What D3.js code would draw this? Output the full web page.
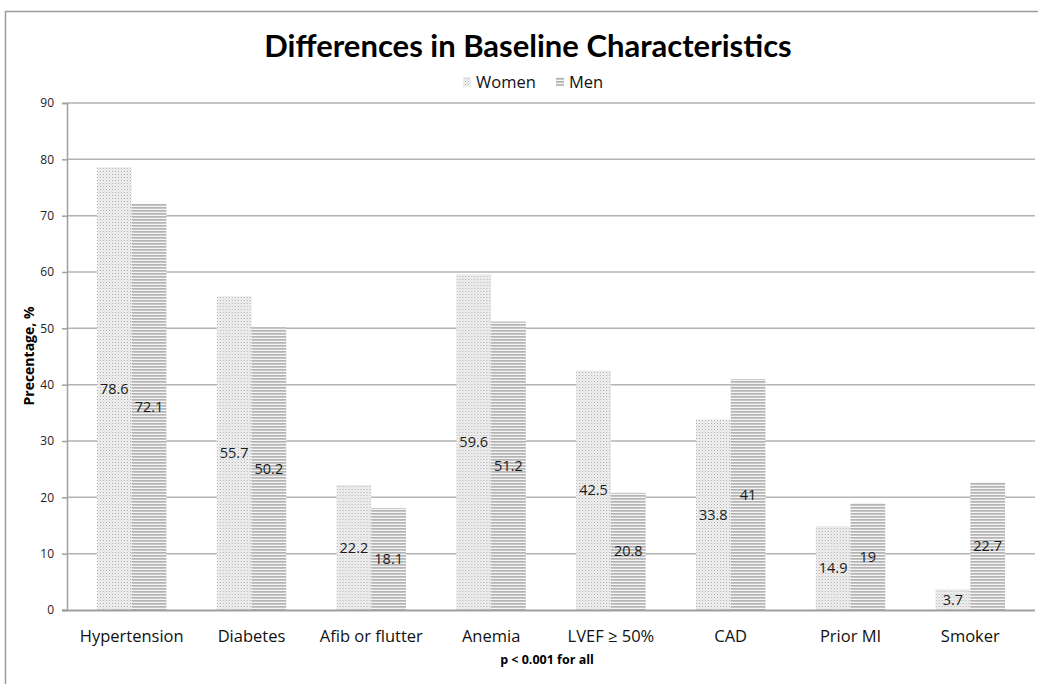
<!DOCTYPE html>
<html><head><meta charset="utf-8">
<script src="https://cdn.jsdelivr.net/npm/d3@7"></script>
<style>body{margin:0;background:#fff;}svg{display:block;font-family:"Open Sans",sans-serif;}</style>
</head><body>
<script>
const categories = ["Hypertension","Diabetes","Afib or flutter","Anemia","LVEF \u2265 50%","CAD","Prior MI","Smoker"];
const women = [78.6,55.7,22.2,59.6,42.5,33.8,14.9,3.7];
const men = [72.1,50.2,18.1,51.2,20.8,41,19,22.7];
const seriesNames = ["Women","Men"];
const yTicks = [0,10,20,30,40,50,60,70,80,90];

const W=1038,H=684;
const svg=d3.select("body").append("svg").attr("width",W).attr("height",H);
const defs=svg.append("defs");
const pw=defs.append("pattern").attr("id","pWomen").attr("patternUnits","userSpaceOnUse").attr("width",3).attr("height",3);
pw.append("rect").attr("width",3).attr("height",3).attr("fill","#f2f2f2");
pw.append("rect").attr("x",0).attr("y",0).attr("width",1).attr("height",1).attr("fill","#a8a8a8");
pw.append("rect").attr("x",1.5).attr("y",1.5).attr("width",1).attr("height",1).attr("fill","#c8c8c8");
const pm=defs.append("pattern").attr("id","pMen").attr("patternUnits","userSpaceOnUse").attr("width",4).attr("height",3);
pm.append("rect").attr("width",4).attr("height",3).attr("fill","#f4f4f4");
pm.append("rect").attr("y",0).attr("width",4).attr("height",1.7).attr("fill","#b4b4b4");

// outer border
svg.append("path").attr("d","M5.5,684 V11.5 H1038").attr("fill","none").attr("stroke","#9a9a9a").attr("stroke-width",1.5);

const m={l:67,r:1035,t:103,b:610};
const x=d3.scaleBand().domain(categories).range([m.l,m.r]).paddingInner(0.42).paddingOuter(0.25);
const xs=d3.scaleBand().domain(seriesNames).range([0,x.bandwidth()]);
const y=d3.scaleLinear().domain([0,90]).range([m.b,m.t]);

// gridlines
svg.append("g").selectAll("line").data(yTicks.filter(d=>d>0)).join("line")
 .attr("x1",m.l).attr("x2",m.r).attr("y1",d=>y(d)).attr("y2",d=>y(d))
 .attr("stroke","#b3b3b3").attr("stroke-width",1.5);

// y axis
const ya=svg.append("g").attr("transform",`translate(${m.l},0)`)
 .call(d3.axisLeft(y).tickValues(yTicks).tickSize(5).tickPadding(8));
ya.select(".domain").attr("stroke","#a0a0a0").attr("stroke-width",1.5);
ya.selectAll(".tick line").attr("stroke","#a0a0a0").attr("stroke-width",1.5);
ya.selectAll(".tick text").attr("font-size",12).attr("fill","#222").attr("font-family","Open Sans");

// bars
const data=categories.map((c,i)=>({c,vals:[{s:"Women",v:women[i]},{s:"Men",v:men[i]}]}));
const g=svg.append("g").selectAll("g").data(data).join("g").attr("transform",d=>`translate(${x(d.c)},0)`);
g.selectAll("rect").data(d=>d.vals).join("rect")
 .attr("x",d=>xs(d.s)).attr("width",xs.bandwidth())
 .attr("y",d=>y(d.v)).attr("height",d=>y(0)-y(d.v))
 .attr("fill",d=>d.s==="Women"?"url(#pWomen)":"url(#pMen)");
g.selectAll("text").data(d=>d.vals).join("text")
 .attr("x",d=>xs(d.s)+xs.bandwidth()/2).attr("y",d=>(y(0)+y(d.v))/2)
 .attr("dy","0.35em").attr("text-anchor","middle").attr("font-size",14.5).attr("fill","#1a1a1a")
 .text(d=>d.v);

// x axis
const xa=svg.append("g").attr("transform",`translate(0,${m.b})`).call(d3.axisBottom(x).tickSize(0).tickPadding(20));
xa.select(".domain").attr("stroke","#a0a0a0").attr("stroke-width",2).attr("d",`M${m.l-5},0.5H${m.r}`);
xa.selectAll(".tick text").attr("font-size",16.5).attr("fill","#111").attr("font-family","Open Sans");

// titles
svg.append("text").attr("x",528).attr("y",57).attr("text-anchor","middle")
 .attr("font-family","Lato").attr("font-weight","bold").attr("font-size",31).attr("fill","#000")
 .text("Differences in Baseline Characteristics");
svg.append("text").attr("transform","translate(34,356) rotate(-90)").attr("text-anchor","middle")
 .attr("font-family","Open Sans").attr("font-weight","bold").attr("font-size",14).attr("fill","#000")
 .text("Precentage, %");
svg.append("text").attr("x",547).attr("y",664).attr("text-anchor","middle")
 .attr("font-family","Open Sans").attr("font-weight","bold").attr("font-size",12.5).attr("fill","#000")
 .text("p < 0.001 for all");

// legend
const leg=[{s:"Women",x:463,f:"url(#pWomen)"},{s:"Men",x:556,f:"url(#pMen)"}];
const lg=svg.append("g").selectAll("g").data(leg).join("g");
lg.append("rect").attr("x",d=>d.x).attr("y",77).attr("width",8).attr("height",10).attr("fill",d=>d.f);
lg.append("text").attr("x",d=>d.x+13).attr("y",88).attr("font-size",16.5).attr("fill","#111").text(d=>d.s);
</script>
</body></html>
